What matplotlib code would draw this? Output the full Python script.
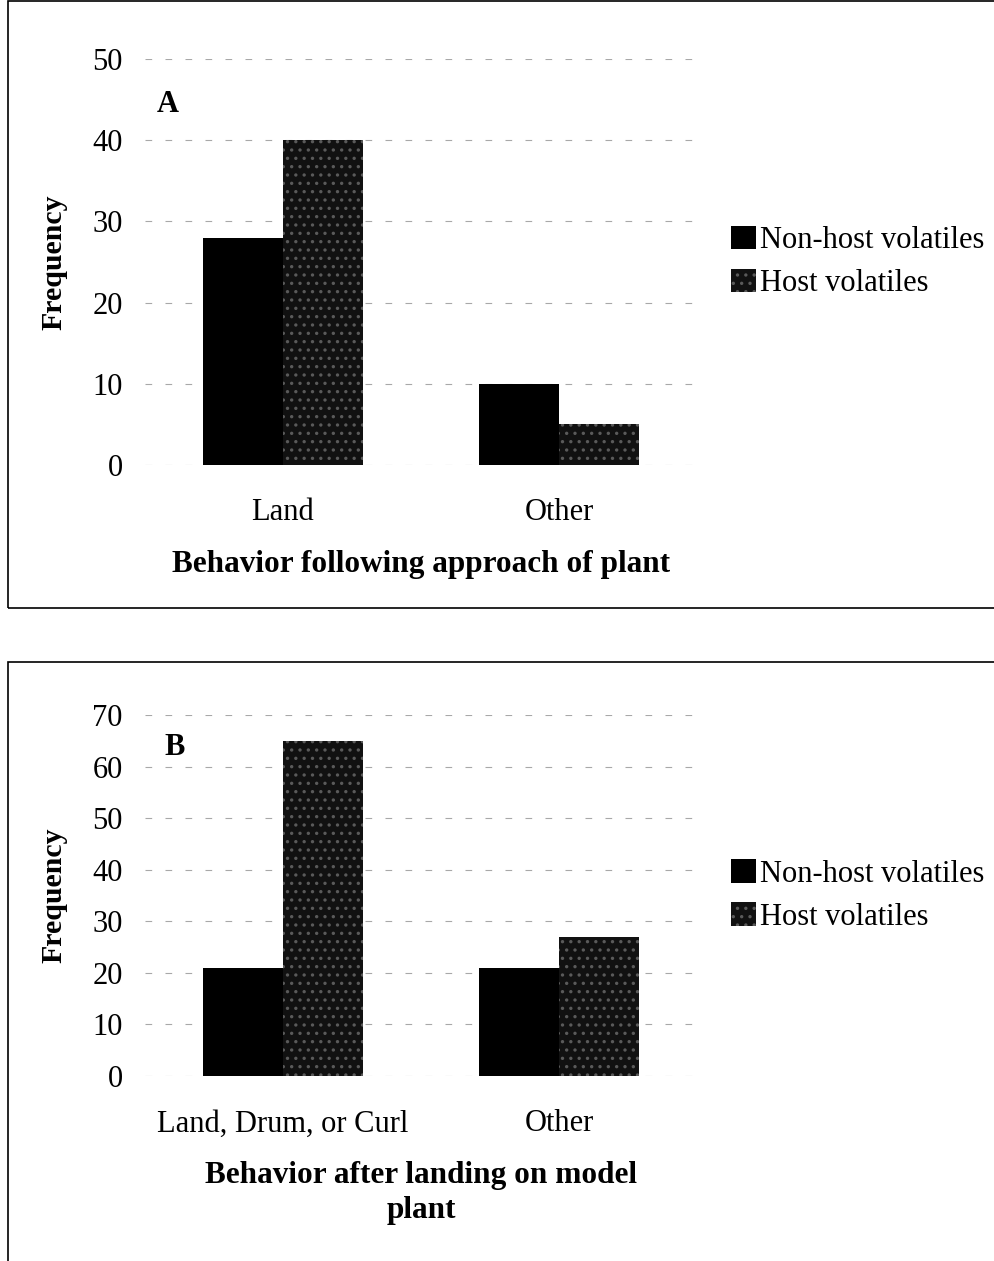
import matplotlib
matplotlib.use("Agg")
import matplotlib.pyplot as plt
from matplotlib.patches import Rectangle
import numpy as np

plt.rcParams['font.family'] = ['Liberation Serif', 'DejaVu Serif']
plt.rcParams['hatch.linewidth'] = 1.2

series_names = ["Non-host volatiles", "Host volatiles"]

cats_a = ["Land", "Other"]
nonhost_a = [28, 10]
host_a = [40, 5]

cats_b = ["Land, Drum, or Curl", "Other"]
nonhost_b = [21, 21]
host_b = [65, 27]

W, H = 994, 1261
fig = plt.figure(figsize=(W / 100, H / 100), dpi=100)


def px_axes(x0, y0, x1, y1):
    return fig.add_axes([x0 / W, 1 - y1 / H, (x1 - x0) / W, (y1 - y0) / H])


def panel(ax, cats, nonhost, host, ymax, ystep, letter, letter_xy, xlabel,
          frame, legend_y):
    x = np.arange(len(cats))
    bw = 0.29
    b1 = ax.bar(x - bw / 2, nonhost, bw, color="black", linewidth=0,
                label=series_names[0])
    b2 = ax.bar(x + bw / 2, host, bw, color="#111111", edgecolor="#5a5a5a",
                hatch="..", linewidth=0, label=series_names[1])
    ax.set_xlim(-0.5, len(cats) - 0.5)
    ax.set_ylim(0, ymax)
    ticks = np.arange(0, ymax + 1, ystep)
    ax.set_yticks(ticks)
    ax.set_yticklabels([str(t) for t in ticks])
    ax.set_xticks(x)
    ax.set_xticklabels(cats)
    ax.tick_params(axis="y", length=0, pad=16, labelsize=22)
    ax.tick_params(axis="x", length=0, pad=24, labelsize=22)
    for s in ax.spines.values():
        s.set_visible(False)
    ax.yaxis.grid(True, color="#a8a8a8", linestyle=(0, (6, 12)), linewidth=0.8)
    ax.set_axisbelow(True)
    ax.set_ylabel("Frequency", fontsize=21.5, fontweight="bold", labelpad=18)
    ax.set_xlabel(xlabel, fontsize=22.5, fontweight="bold", labelpad=16,
                  linespacing=1.3)
    ax.text(letter_xy[0], letter_xy[1], letter, transform=ax.transAxes,
            fontsize=22, fontweight="bold", va="center", ha="left")
    ax.legend(handles=[b1, b2], loc="center left",
              bbox_to_anchor=(1.04, legend_y), frameon=False, fontsize=22,
              handlelength=0.8, handleheight=0.8, handletextpad=0.15,
              labelspacing=0.45, borderaxespad=0)
    # panel frame
    fx0, fy0, fx1, fy1 = frame
    fig.patches.append(Rectangle((fx0 / W, 1 - fy1 / H), (fx1 - fx0) / W,
                                 (fy1 - fy0) / H, transform=fig.transFigure,
                                 fill=False, edgecolor="black", linewidth=1.2))


axA = px_axes(145, 59, 697, 465)
panel(axA, cats_a, nonhost_a, host_a, 50, 10, "A", (0.022, 0.887),
      "Behavior following approach of plant", (8, 1, 1000, 608), 0.50)

axB = px_axes(145, 715, 697, 1076)
panel(axB, cats_b, nonhost_b, host_b, 70, 10, "B", (0.036, 0.909),
      "Behavior after landing on model\nplant", (8, 662, 1000, 1270), 0.50)

fig.savefig("out.png", dpi=100, facecolor="white")
